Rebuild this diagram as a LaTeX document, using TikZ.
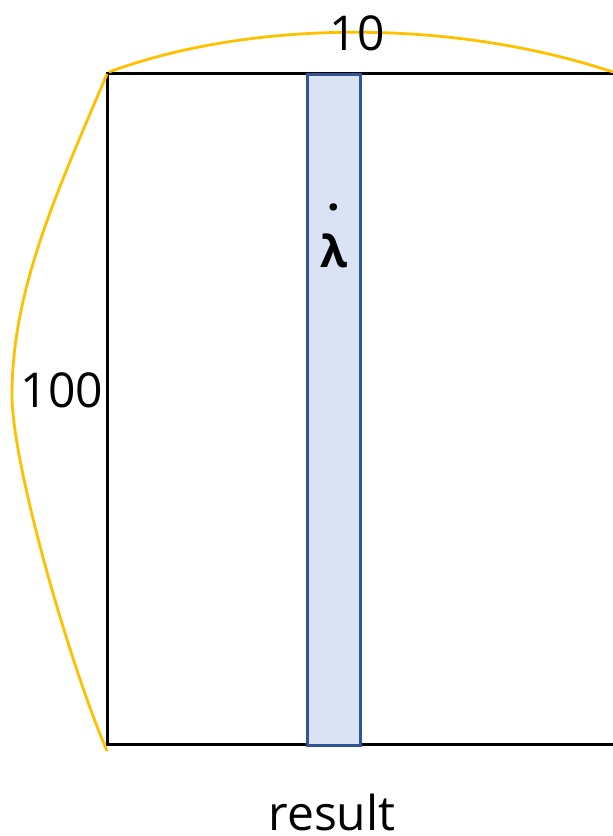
\documentclass[tikz,border=0pt]{standalone}
\usepackage{fontspec}
\setmainfont{Open Sans}
\begin{document}
\begin{tikzpicture}[x=1pt,y=-1pt,
  frame/.style={draw=black,line width=3pt},
  strip/.style={draw=stripdraw,fill=stripfill,line width=2.5pt},
  brace/.style={draw=braceorange,line width=2.8pt},
  lbl/.style={font=\fontsize{48}{50}\selectfont,inner sep=0pt}]
\definecolor{stripfill}{HTML}{DAE3F3}
\definecolor{braceorange}{HTML}{FFC000}
\definecolor{stripdraw}{HTML}{2F5597}
\useasboundingbox (0,0) rectangle (613,836);
\clip (0,0) rectangle (613,836);
% main rectangle
\draw[frame] (107,73) rectangle (660,744);
% highlighted strip
\node[strip,minimum width=53pt,minimum height=671pt,inner sep=0pt,anchor=north west] (s) at (306,73) {};
% label in strip
\node[inner sep=0pt,align=center,font=\fontsize{44}{57}\selectfont\bfseries] (j) at (334,236) {.\\λ};
% coordinates for braces
\coordinate (tl) at (107,74);
\coordinate (ml) at (12,395);
\coordinate (bl) at (107,751);
\coordinate (tr) at (613,72);
% top brace
\draw[brace] (109,72) .. controls (250,20) and (450,18) .. (tr);
% left brace
\draw[brace] (tl) .. controls (56,194) and (12,290) .. (ml)
                  .. controls (12,465) and (70,665) .. (bl);
% labels
\node[lbl] (ten) at (357,33) {10};
\node[lbl] (hundred) at (62,390) {100};
\node[lbl] (res) at (332,812) {result};
\end{tikzpicture}
\end{document}
